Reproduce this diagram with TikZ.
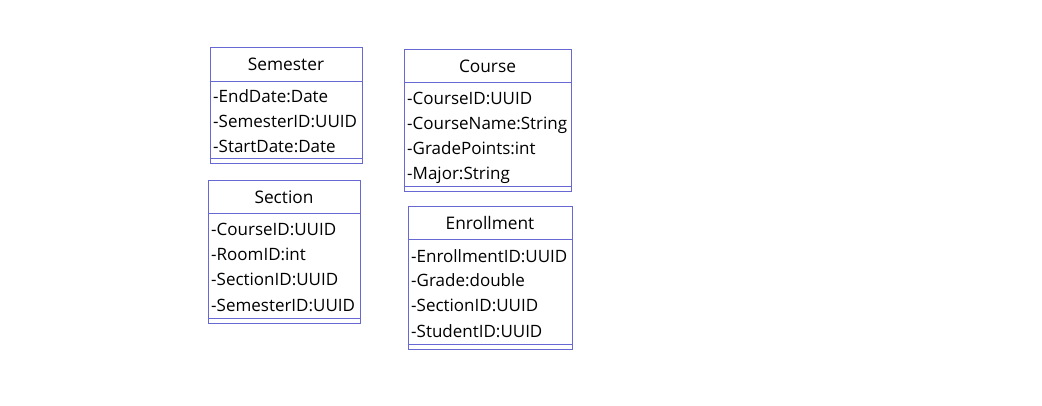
\documentclass[tikz,border=0pt]{standalone}
\usepackage{fontspec}
\setmainfont{Open Sans}
\definecolor{umlborder}{RGB}{104,104,212}
\begin{document}
\begin{tikzpicture}[x=1pt,y=-1pt,
  classbox/.style={draw=umlborder, line width=1pt, fill=white, inner sep=0pt},
  sepline/.style={draw=umlborder, line width=1pt},
  classname/.style={font=\fontsize{17.3}{19}\selectfont, inner sep=0pt, anchor=base},
  attr/.style={font=\fontsize{17}{19}\selectfont, inner sep=0pt, anchor=base west}]
\useasboundingbox (0,0) rectangle (1042,406);

% Semester
\node[classbox, minimum width=152pt, minimum height=116pt] (sem) at (286,106) {};
\draw[sepline] (sem.west |- 0,82) -- (sem.east |- 0,82);
\draw[sepline] (sem.west |- 0,159) -- (sem.east |- 0,159);
\node[classname] (semT) at (286,71) {Semester};
\node[attr] (semA) at (213,103) {-EndDate:Date};
\node[attr] (semB) at (213,128) {-SemesterID:UUID};
\node[attr] (semC) at (213,153) {-StartDate:Date};

% Course
\node[classbox, minimum width=167pt, minimum height=142pt] (crs) at (487.5,121) {};
\draw[sepline] (crs.west |- 0,83) -- (crs.east |- 0,83);
\draw[sepline] (crs.west |- 0,187) -- (crs.east |- 0,187);
\node[classname] (crsT) at (487.5,73) {Course};
\node[attr] (crsA) at (407,105) {-CourseID:UUID};
\node[attr] (crsB) at (407,130) {-CourseName:String};
\node[attr] (crsC) at (407,155) {-GradePoints:int};
\node[attr] (crsD) at (407,180) {-Major:String};

% Section
\node[classbox, minimum width=152pt, minimum height=142pt] (sec) at (284,252) {};
\draw[sepline] (sec.west |- 0,214) -- (sec.east |- 0,214);
\draw[sepline] (sec.west |- 0,318) -- (sec.east |- 0,318);
\node[classname] (secT) at (284,204) {Section};
\node[attr] (secA) at (211,236) {-CourseID:UUID};
\node[attr] (secB) at (211,261) {-RoomID:int};
\node[attr] (secC) at (211,286) {-SectionID:UUID};
\node[attr] (secD) at (211,311) {-SemesterID:UUID};

% Enrollment
\node[classbox, minimum width=164pt, minimum height=142pt] (enr) at (490,278) {};
\draw[sepline] (enr.west |- 0,240) -- (enr.east |- 0,240);
\draw[sepline] (enr.west |- 0,344) -- (enr.east |- 0,344);
\node[classname] (enrT) at (490,230) {Enrollment};
\node[attr] (enrA) at (411,262) {-EnrollmentID:UUID};
\node[attr] (enrB) at (411,287) {-Grade:double};
\node[attr] (enrC) at (411,312) {-SectionID:UUID};
\node[attr] (enrD) at (411,337) {-StudentID:UUID};
\end{tikzpicture}
\end{document}
